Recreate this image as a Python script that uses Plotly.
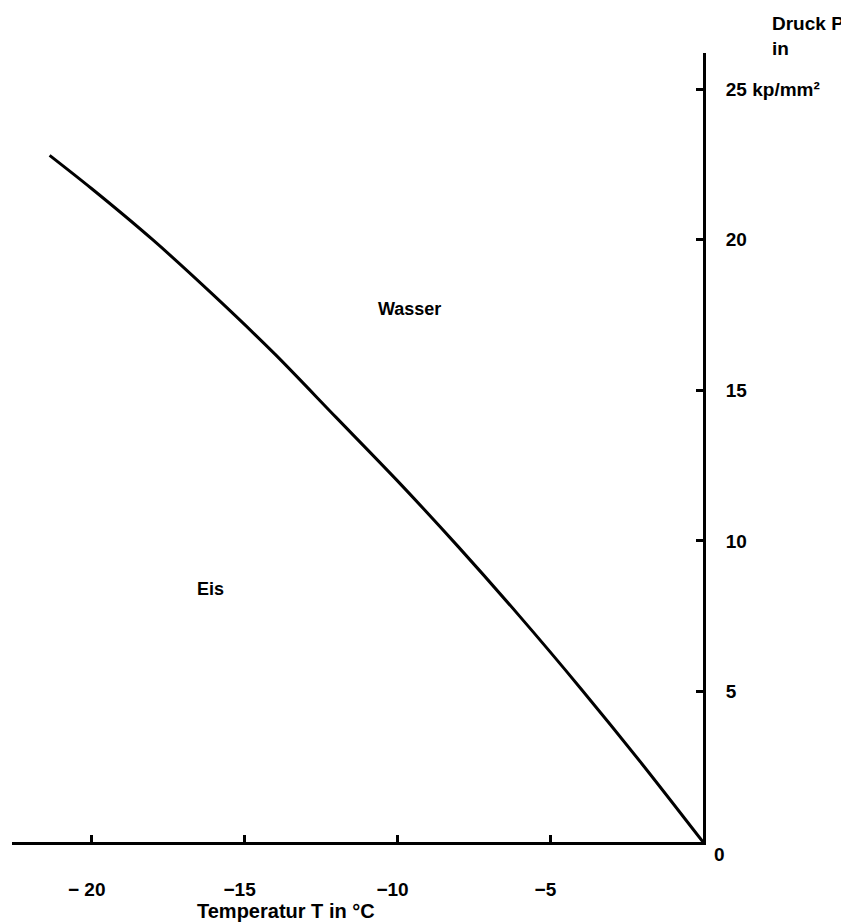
import plotly.graph_objects as go

# Data
temperatur = [-21.37, -20.0, -18.0, -16.0, -14.0, -12.0, -10.0, -8.0, -6.0, -4.0, -2.0, 0.0]
druck = [22.8, 21.7, 20.0, 18.15, 16.2, 14.1, 12.0, 9.8, 7.5, 5.1, 2.6, 0.0]

x_ticks = [-20, -15, -10, -5]
x_ticktext = ["\u2212 20\u2002", "\u221215\u2002", "\u221210\u2002", "\u22125\u2002"]
y_ticks = [5, 10, 15, 20, 25]
y_ticktext = ["5", "10", "15", "20", "25 kp/mm\u00b2"]

FONT = "Liberation Sans, Arial, sans-serif"
FS = 19

fig = go.Figure()
fig.add_trace(go.Scatter(
    x=temperatur, y=druck, mode="lines",
    line=dict(color="black", width=3, shape="spline", smoothing=0.8),
    hoverinfo="skip", showlegend=False,
))

# the page body adds an 8px offset; margins compensate for it
fig.update_layout(
    width=849, height=922,
    margin=dict(l=4, r=154, t=45, b=88),
    paper_bgcolor="white", plot_bgcolor="white",
    font=dict(family=FONT, size=FS, color="black", weight="bold"),
    xaxis=dict(
        range=[-22.6, 0], showgrid=False, zeroline=False,
        showline=True, linecolor="black", linewidth=3,
        ticks="inside", ticklen=7, tickwidth=3, tickcolor="black",
        tickvals=x_ticks, ticktext=x_ticktext,
        ticklabelstandoff=28,
        tickfont=dict(family=FONT, size=FS, weight="bold"),
        fixedrange=True,
    ),
    yaxis=dict(
        range=[0, 26.2], side="right", showgrid=False, zeroline=False,
        showline=True, linecolor="black", linewidth=3,
        ticks="inside", ticklen=7, tickwidth=3, tickcolor="black",
        tickvals=y_ticks, ticktext=y_ticktext,
        ticklabelstandoff=16,
        tickfont=dict(family=FONT, size=FS, weight="bold"),
        fixedrange=True,
    ),
    annotations=[
        dict(text="Druck P", xref="paper", yref="paper", x=1, y=1,
             xanchor="left", yanchor="middle", xshift=67, yshift=30,
             showarrow=False, font=dict(size=FS, weight="bold")),
        dict(text="in", xref="paper", yref="paper", x=1, y=1,
             xanchor="left", yanchor="middle", xshift=67, yshift=5,
             showarrow=False, font=dict(size=FS, weight="bold")),
        dict(text="0", xref="x", yref="y", x=0, y=0,
             xanchor="center", yanchor="middle", xshift=16, yshift=-12,
             showarrow=False, font=dict(size=FS, weight="bold")),
        dict(text="Temperatur T in \u00b0C", xref="paper", yref="paper",
             x=0, y=0, xanchor="center", yanchor="middle",
             xshift=274, yshift=-69,
             showarrow=False, font=dict(size=20, weight="bold")),
        dict(text="Wasser", xref="x", yref="y", x=-9.6, y=17.7,
             xanchor="center", yanchor="middle", showarrow=False,
             font=dict(size=18, weight=900)),
        dict(text="Eis", xref="x", yref="y", x=-16.1, y=8.4,
             xanchor="center", yanchor="middle", showarrow=False,
             font=dict(size=18, weight=900)),
    ],
)

fig.write_html("out.html")
